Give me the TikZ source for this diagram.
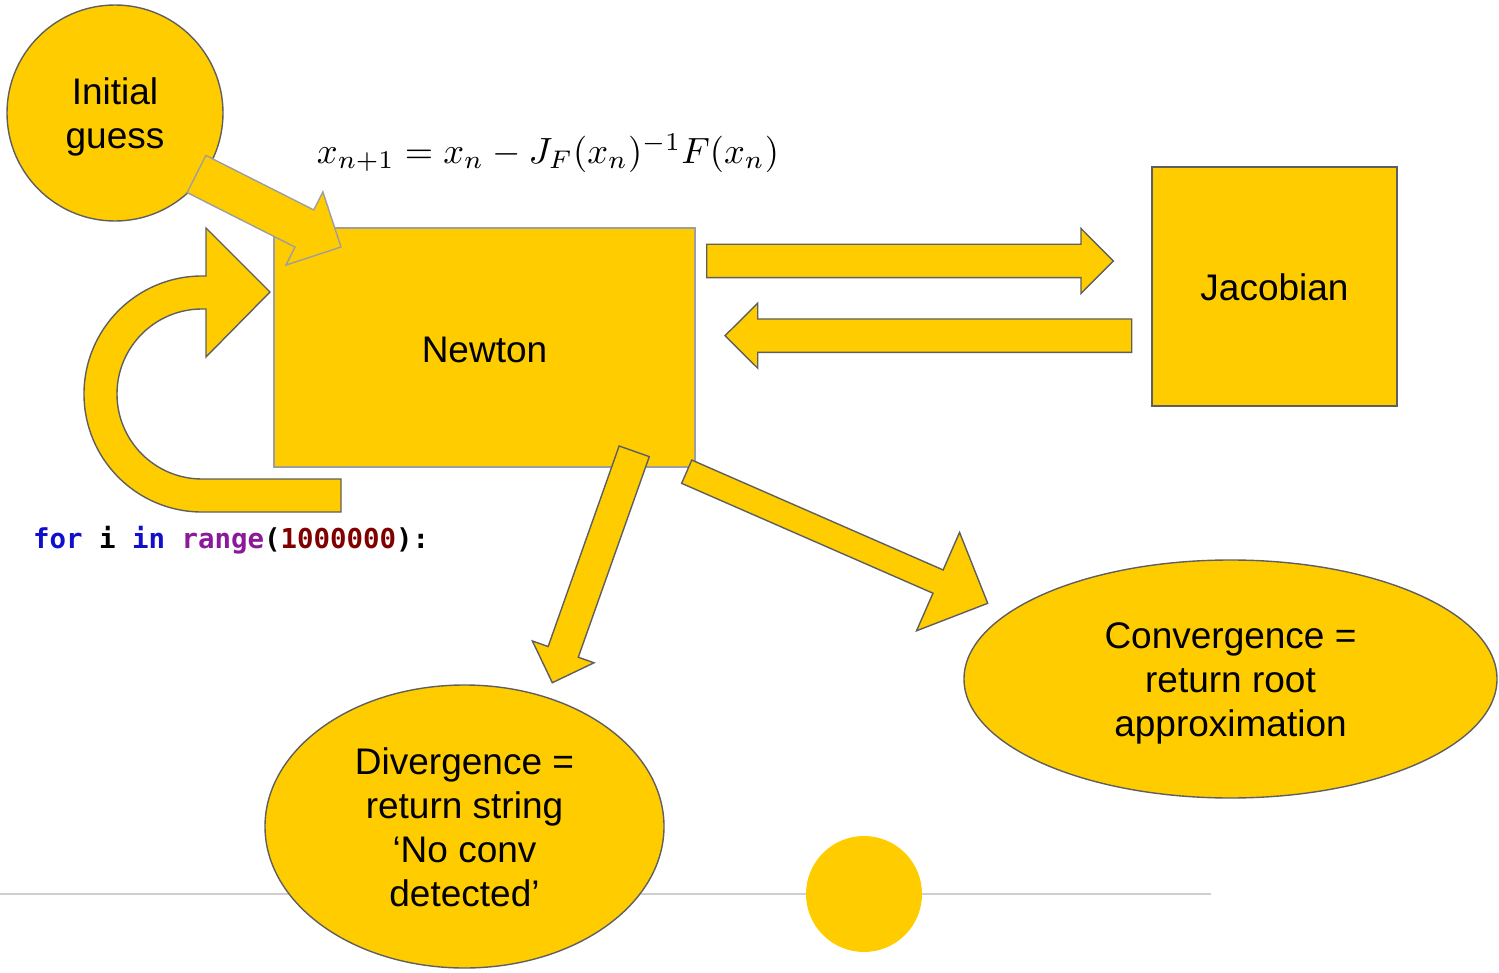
\documentclass[tikz,border=0pt]{standalone}
\usepackage[no-math]{fontspec}
\setmainfont{Liberation Sans}
\newfontfamily\codefont{DejaVu Sans Mono}
\usepackage{graphicx}
\usetikzlibrary{calc,shapes.geometric}

\definecolor{gold}{HTML}{FFCC00}
\definecolor{rim}{HTML}{5F5F5F}
\definecolor{softrim}{HTML}{9E9E9E}
\definecolor{kwblue}{HTML}{1010CC}
\definecolor{fnpurple}{HTML}{8B1A9B}
\definecolor{numred}{HTML}{800000}
\definecolor{rulegray}{HTML}{CFCFCF}

% invisible strut that pushes a node's text block downwards
\newcommand{\drop}[1]{\rule{0pt}{#1}}

% block arrow: [style] {tail} {tip} {shaft half width} {head half width} {head length}
\newcommand{\blockarrow}[6][]{%
  \coordinate (bT) at #2;
  \coordinate (bH) at #3;
  \coordinate (bB) at ($(bH)!#6!(bT)$);
  \filldraw[fatarrow,#1]
    ($(bT)!#4!90:(bH)$) -- ($(bB)!#4!90:(bH)$) -- ($(bB)!#5!90:(bH)$) -- (bH)
    -- ($(bB)!#5!-90:(bH)$) -- ($(bB)!#4!-90:(bH)$) -- ($(bT)!#4!-90:(bH)$) -- cycle;}

\begin{document}
\begin{tikzpicture}[x=1pt,y=-1pt,
  every node/.style={font=\fontsize{37}{44}\selectfont, align=center},
  fatarrow/.style={fill=gold, draw=rim, line width=1.4pt, line join=miter},
  blob/.style={fill=gold, draw=rim, line width=1.4pt, inner sep=0pt}]

\useasboundingbox (0,0) rectangle (1499,973);

% thin rule across the lower part
\draw[rulegray, line width=2pt] (0,894) -- (1211,894);

% main blocks
\node[blob, circle, minimum size=216pt] (guess) at (115,113) {\drop{35pt}Initial\\guess};
\node[blob, rectangle, draw=softrim, minimum width=421pt, minimum height=239pt] (newton) at (484.5,347.5) {\drop{31pt}Newton};
\node[blob, rectangle, minimum width=245pt, minimum height=239pt] (jacobian) at (1274.5,286.5) {\drop{29pt}Jacobian};
\node[blob, ellipse, minimum width=399pt, minimum height=283pt] (diverge) at (464.5,826.5)
  {\drop{29pt}Divergence =\\return string\\‘No conv\\detected’};
\node[blob, ellipse, minimum width=533pt, minimum height=238pt] (converge) at (1230.5,679)
  {\drop{35pt}Convergence =\\return root\\approximation};
\node[circle, fill=gold, minimum size=116pt, inner sep=0pt] (dot) at (864,894) {};

% Newton update formula
\node (formula) at (548,153) {\resizebox{462pt}{!}{\fontsize{10}{12}\selectfont$x_{n+1} = x_n - J_F(x_n)^{-1}F(x_n)$}};

% loop code
\node[anchor=base west, inner sep=0pt, font=\codefont\bfseries\fontsize{27.4}{30}\selectfont] (loopcode) at (33,548)
  {\textcolor{kwblue}{for} i \textcolor{kwblue}{in} \textcolor{fnpurple}{range}(\textcolor{numred}{1000000}):};

% iteration loop arrow back into Newton
\filldraw[fatarrow] (341,479) -- (202,479) arc[start angle=90, end angle=270, radius=85]
  -- (206,309) -- (206,357) -- (270,292) -- (206,228) -- (206,276) -- (202,276)
  arc[start angle=270, end angle=90, radius=118] -- (341,512) -- cycle;

% connectors between blocks
\coordinate (g1) at (196.5,174);  \coordinate (g2) at (341,247);
\coordinate (j1) at (706.7,261);  \coordinate (j2) at (1113.3,261);
\coordinate (k1) at (1131.7,335.7); \coordinate (k2) at (725,335.7);
\coordinate (d1) at (634.2,451.3); \coordinate (d2) at (552.3,682.7);
\coordinate (c1) at (686.7,471.7); \coordinate (c2) at (987.7,603.3);

\blockarrow[draw=softrim]{(g1)}{(g2)}{20.8pt}{41pt}{41pt}
\blockarrow{(j1)}{(j2)}{16.7pt}{32.5pt}{32.3pt}
\blockarrow{(k1)}{(k2)}{16.7pt}{32.5pt}{32.7pt}
\blockarrow{(d1)}{(d2)}{16pt}{32.7pt}{32.7pt}
\blockarrow{(c1)}{(c2)}{12.7pt}{53.7pt}{54.2pt}

\end{tikzpicture}
\end{document}
